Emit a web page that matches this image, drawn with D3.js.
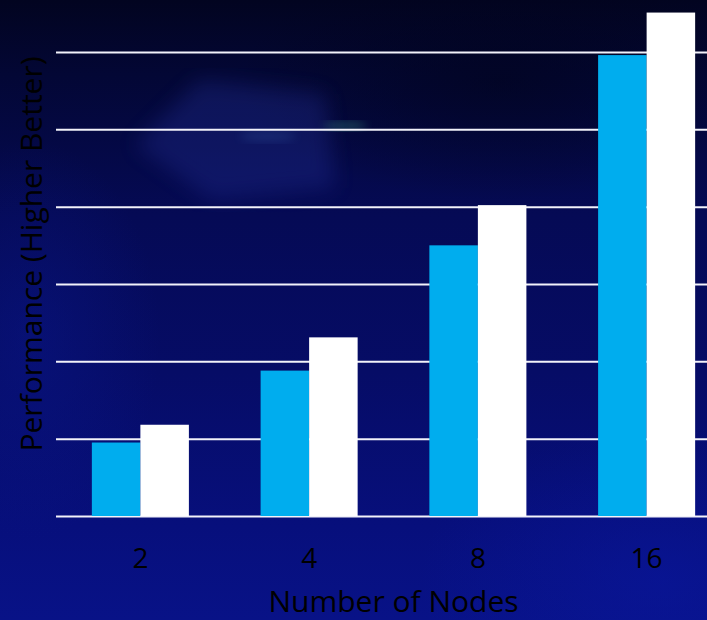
<!DOCTYPE html>
<html>
<head>
<meta charset="utf-8">
<script src="https://cdn.jsdelivr.net/npm/d3@7"></script>
<style>
  html, body { margin: 0; padding: 0; background: #040834; }
  svg { display: block; }
</style>
</head>
<body>
<div id="chart"></div>
<script>
// Chart data
const categories = ["2", "4", "8", "16"];
const seriesNames = ["baseline", "improved"];
const baselineValues = [0.95, 1.88, 3.50, 5.96];
const improvedValues = [1.18, 2.31, 4.02, 6.51];
const gridTicks = [0, 1, 2, 3, 4, 5, 6];
const xTitle = "Number of Nodes";
const yTitle = "Performance (Higher Better)";

const W = 707, H = 620;
const plot = { left: 56, right: 731, top: 52, bottom: 516 };
const colors = { baseline: "#00adee", improved: "#ffffff" };
const font = "'Open Sans', 'Noto Sans', sans-serif";

const rows = categories.map((c, i) => ({
  category: c,
  baseline: baselineValues[i],
  improved: improvedValues[i]
}));

const svg = d3.select("#chart").append("svg")
  .attr("width", W).attr("height", H);

// Background: dark navy wash with a few soft glows
const defs = svg.append("defs");
const bg = defs.append("linearGradient").attr("id", "bg")
  .attr("x1", 0).attr("y1", 0).attr("x2", 0).attr("y2", 1);
[["0%", "#020420"], ["12%", "#030735"], ["35%", "#050a55"], ["60%", "#060c66"], ["85%", "#070f7c"], ["100%", "#081287"]]
  .forEach(([o, c]) => bg.append("stop").attr("offset", o).attr("stop-color", c));

const glow = (id, color, op) => {
  const g = defs.append("radialGradient").attr("id", id);
  g.append("stop").attr("offset", "0%").attr("stop-color", color).attr("stop-opacity", op);
  g.append("stop").attr("offset", "100%").attr("stop-color", color).attr("stop-opacity", 0);
};
glow("glowBR", "#0a18a4", 0.45);
glow("glowL", "#0a1890", 0.4);
glow("glowTR", "#01031c", 0.6);
defs.append("filter").attr("id", "soft")
  .append("feGaussianBlur").attr("stdDeviation", 10);
defs.append("filter").attr("id", "softer")
  .append("feGaussianBlur").attr("stdDeviation", 5);

svg.append("rect").attr("width", W).attr("height", H).attr("fill", "url(#bg)");
svg.append("ellipse").attr("cx", 660).attr("cy", 580).attr("rx", 240).attr("ry", 160)
  .attr("fill", "url(#glowBR)");
svg.append("ellipse").attr("cx", 30).attr("cy", 340).attr("rx", 130).attr("ry", 200)
  .attr("fill", "url(#glowL)");
svg.append("ellipse").attr("cx", 500).attr("cy", 80).attr("rx", 260).attr("ry", 120)
  .attr("fill", "url(#glowTR)");
svg.append("polygon")
  .attr("points", "135,145 200,80 325,94 335,188 212,200")
  .attr("fill", "#2a38a8").attr("opacity", 0.28).attr("filter", "url(#soft)");
svg.append("ellipse").attr("cx", 345).attr("cy", 126).attr("rx", 22).attr("ry", 5)
  .attr("fill", "#3fa08a").attr("opacity", 0.35).attr("filter", "url(#softer)");
svg.append("ellipse").attr("cx", 268).attr("cy", 136).attr("rx", 28).attr("ry", 6)
  .attr("fill", "#3a6ab0").attr("opacity", 0.22).attr("filter", "url(#softer)");

// Scales
const x0 = d3.scaleBand().domain(categories)
  .range([plot.left, plot.right]).paddingInner(0.425).paddingOuter(0.2125);
const x1 = d3.scaleBand().domain(seriesNames)
  .range([0, x0.bandwidth()]).padding(0);
const y = d3.scaleLinear().domain([0, 6]).range([plot.bottom, plot.top]);

// Horizontal gridlines (the 0 line doubles as the category axis line)
const grid = svg.append("g")
  .attr("transform", `translate(${plot.left},0)`)
  .call(d3.axisLeft(y).tickValues(gridTicks).tickSize(-(W - plot.left)).tickFormat(""));
grid.select(".domain").remove();
grid.selectAll(".tick line")
  .attr("stroke", "#f2f2fa").attr("stroke-width", 2);

// Bars
const groups = svg.append("g").selectAll("g").data(rows).join("g")
  .attr("transform", d => `translate(${x0(d.category)},0)`);
groups.selectAll("rect")
  .data(d => seriesNames.map(k => ({ key: k, value: d[k] })))
  .join("rect")
  .attr("x", d => x1(d.key))
  .attr("y", d => y(d.value))
  .attr("width", x1.bandwidth())
  .attr("height", d => y(0) - y(d.value))
  .attr("fill", d => colors[d.key]);

// Category labels
const xAxis = svg.append("g")
  .attr("transform", `translate(0,${plot.bottom})`)
  .call(d3.axisBottom(x0).tickSize(0).tickPadding(0));
xAxis.select(".domain").remove();
xAxis.selectAll("text")
  .attr("dy", null)
  .attr("y", 52)
  .attr("font-family", font).attr("font-size", 28)
  .attr("fill", "#000");

// Axis titles
svg.append("text")
  .attr("x", (plot.left + plot.right) / 2).attr("y", 612)
  .attr("text-anchor", "middle")
  .attr("font-family", font).attr("font-size", 30).attr("fill", "#000")
  .text(xTitle);

svg.append("text")
  .attr("transform", "translate(42,254) rotate(-90)")
  .attr("text-anchor", "middle")
  .attr("font-family", font).attr("font-size", 30).attr("fill", "#000")
  .text(yTitle);
</script>
</body>
</html>
